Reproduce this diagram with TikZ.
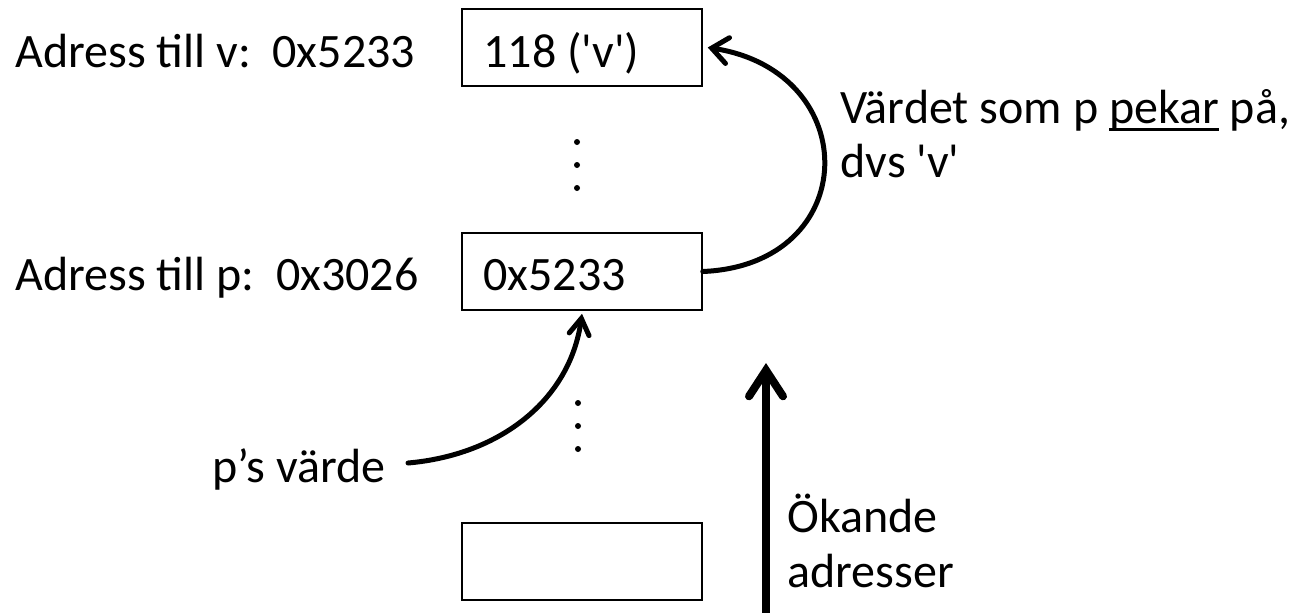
\documentclass[tikz,border=0pt]{standalone}
\usepackage{fontspec}
\setmainfont{Carlito}[Ligatures=TeXOff]
\usetikzlibrary{arrows.meta}
\newcommand\myul[1]{\setbox0\hbox{#1}\rlap{\raisebox{-3.9pt}{\rule{\wd0}{1.4pt}}}\box0\relax}
\begin{document}
\begin{tikzpicture}[x=0.5pt,y=-0.5pt,
  every node/.style={font=\fontsize{24}{29}\selectfont},
  txt/.style={anchor=base west,inner sep=0pt},
  cell/.style={draw,line width=0.75pt,minimum width=120pt,minimum height=38.5pt,inner sep=0pt},
  dot/.style={circle,fill,inner sep=0pt,minimum size=3pt},
  curvy/.style={line width=2.5pt,line cap=round},
]
\useasboundingbox (0,0) rectangle (1301,612);
% memory cells
\node[cell] (b1) at (582,47.5) {};
\node[cell] (b2) at (582,271.5) {};
\node[cell] (b3) at (582,561.5) {};
\node[txt] (t1) at (483,67) {118 ('v')};
\node[txt] (t2) at (483,290) {0x5233};
% address labels
\node[txt] (a1) at (15,67) {Adress till v:\ \ 0x5233};
\node[txt] (a2) at (15,290) {Adress till p:\ \ 0x3026};
% dots
\node[dot] (d1) at (577,142) {};
\node[dot] (d2) at (577,165) {};
\node[dot] (d3) at (577,188) {};
\node[dot] (d4) at (578,403) {};
\node[dot] (d5) at (578,426) {};
\node[dot] (d6) at (578,449) {};
% right text
\node[txt] (r1) at (840,123) {Värdet som p \myul{pekar} på,};
\node[txt] (r2) at (840,177) {dvs 'v'};
\node[txt] (pv) at (212,482) {p’s värde};
\node[txt] (ok1) at (787,532) {Ökande};
\node[txt] (ok2) at (787,587) {adresser};
% arrows
\draw[curvy,-{Straight Barb[length=8pt,width=13pt,line cap=round]}]
  (b2.east) .. controls (862,265) and (865,72) .. ([xshift=2.5pt]b1.east);
\coordinate (ps) at (408,463);
\draw[curvy,-{Straight Barb[length=8pt,width=10pt,line cap=round]}]
  (ps) .. controls (500,455) and (570,400) .. ([yshift=-1.5pt]b2.south);
\coordinate (up0) at (766,614);
\coordinate (up1) at (766,363);
\draw[line width=4pt,-{Straight Barb[length=13pt,width=17pt,line cap=round]}] (up0) -- (up1);
\end{tikzpicture}
\end{document}
